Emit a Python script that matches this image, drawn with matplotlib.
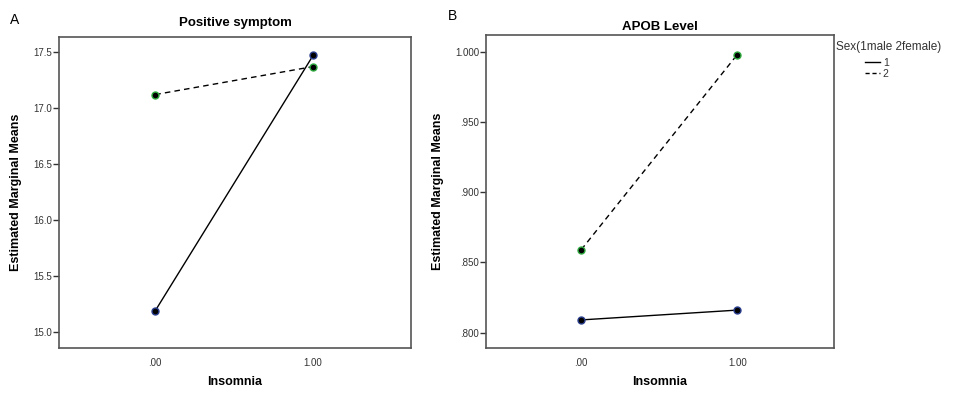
import numpy as np
import matplotlib.pyplot as plt

plt.rcParams['font.family'] = ['Liberation Sans', 'DejaVu Sans']

insomnia = [0, 1]
xtick_labels = ['.00', '1.00']
sex_levels = ['1', '2']

# panel A: positive symptom
pos_sex1 = [15.19, 17.47]
pos_sex2 = [17.12, 17.37]
pos_ticks = [15.0, 15.5, 16.0, 16.5, 17.0, 17.5]

# panel B: APOB level
apob_sex1 = [0.809, 0.816]
apob_sex2 = [0.859, 0.998]
apob_ticks = [0.800, 0.850, 0.900, 0.950, 1.000]

W, H = 956, 398
fig = plt.figure(figsize=(W/100, H/100), dpi=100)

def box(l, t, r, b):
    return [l/W, 1-b/H, (r-l)/W, (b-t)/H]

def panel(ax, s1, s2, ticks, fmt, ylim, title, tpad):
    ax.plot(insomnia, s1, '-', color='black', lw=1,
            marker='o', ms=5, mfc='black', mec='#2a3f8f', mew=1, label=sex_levels[0])
    ax.plot(insomnia, s2, '--', color='black', lw=1, dashes=(4, 3),
            marker='o', ms=5, mfc='black', mec='#2faa3f', mew=1, label=sex_levels[1])
    ax.set_xlim(-0.61, 1.62)
    ax.set_ylim(*ylim)
    ax.set_xticks(insomnia)
    ax.set_xticklabels(xtick_labels)
    ax.set_yticks(ticks)
    ax.set_yticklabels([fmt(v) for v in ticks])
    ax.tick_params(axis='both', labelsize=7, colors='#333333', length=4, width=1, pad=1)
    ax.tick_params(axis='x', length=0, pad=7)
    for sp in ax.spines.values():
        sp.set_color('#555555')
        sp.set_linewidth(1.2)
    ax.set_xlabel('Insomnia', fontsize=9, fontweight='bold', labelpad=6)
    ax.set_ylabel('Estimated Marginal Means', fontsize=9, fontweight='bold', labelpad=8)
    ax.set_title(title, fontsize=9.5, fontweight='bold', pad=tpad)

axA = fig.add_axes(box(59, 37, 411, 348))
panel(axA, pos_sex1, pos_sex2, pos_ticks, lambda v: '%.1f' % v, (14.857, 17.634),
      'Positive symptom', 8)

axB = fig.add_axes(box(486, 35, 834, 348))
panel(axB, apob_sex1, apob_sex2, apob_ticks, lambda v: ('%.3f' % v).lstrip('0'), (0.789, 1.012),
      'APOB Level', 3.5)

fig.text(10/W, 1-20/H, 'A', fontsize=10, va='center', ha='left')
fig.text(448/W, 1-16/H, 'B', fontsize=10, va='center', ha='left')

fig.text(836/W, 1-47/H, 'Sex(1male 2female)', fontsize=8.5, color='#333333',
         va='center', ha='left')
leg = fig.legend(handles=[plt.Line2D([], [], color='black', lw=1),
                          plt.Line2D([], [], color='black', lw=1, ls='--', dashes=(3, 2))],
                 labels=sex_levels, loc='upper left',
                 bbox_to_anchor=(865/W, 1-58/H), frameon=False,
                 fontsize=7.5, handlelength=1.4, handletextpad=0.3,
                 labelspacing=0.1, borderpad=0, borderaxespad=0)
for t in leg.get_texts():
    t.set_color('#333333')

fig.savefig('out.png', dpi=100)
